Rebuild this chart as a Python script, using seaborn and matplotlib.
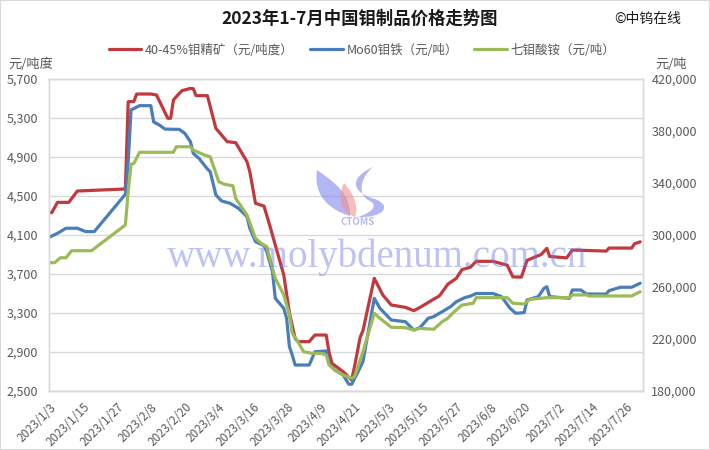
import matplotlib
matplotlib.use("Agg")
import matplotlib.pyplot as plt
import matplotlib.ticker as mticker
from matplotlib.patches import Rectangle, PathPatch
from matplotlib.path import Path
import pandas as pd
import seaborn as sns

# 40-45% molybdenum concentrate, yuan per ton-degree (left axis)
conc_dates = ["01-03", "01-04", "01-06", "01-10", "01-13", "01-30", "01-31", "02-02", "02-03", "02-08",
              "02-10", "02-14", "02-15", "02-16", "02-17", "02-19", "02-22", "02-23", "02-24", "02-28",
              "03-03", "03-07", "03-10", "03-14", "03-15", "03-17", "03-20", "03-22", "03-24", "03-27",
              "03-29", "03-31", "04-01", "04-05", "04-07", "04-11", "04-12", "04-13", "04-17", "04-20",
              "04-21", "04-23", "04-24", "04-28", "05-01", "05-04", "05-09", "05-12", "05-14", "05-16",
              "05-18", "05-21", "05-24", "05-27", "05-29", "06-01", "06-03", "06-09", "06-14", "06-16",
              "06-19", "06-21", "06-26", "06-28", "06-29", "07-05", "07-07", "07-19", "07-20", "07-28",
              "07-29", "07-31"]
conc_price = [4330, 4330, 4435, 4435, 4551, 4572, 5467, 5470, 5546, 5546,
              5536, 5297, 5297, 5485, 5519, 5580, 5604, 5600, 5529, 5529,
              5194, 5057, 5047, 4852, 4749, 4425, 4397, 4203, 3997, 3690,
              3300, 3040, 3006, 3006, 3074, 3074, 2900, 2784, 2698, 2613,
              2749, 3050, 3120, 3656, 3485, 3382, 3358, 3324, 3355, 3389,
              3425, 3475, 3595, 3656, 3745, 3770, 3830, 3830, 3790, 3670,
              3668, 3840, 3900, 3963, 3880, 3865, 3946, 3935, 3966, 3966,
              4010, 4030]

# Mo60 ferromolybdenum, yuan per ton (right axis)
femo_dates = ["01-03", "01-06", "01-09", "01-13", "01-16", "01-19", "01-30", "01-31", "02-01", "02-04",
              "02-08", "02-09", "02-11", "02-13", "02-16", "02-18", "02-20", "02-22", "02-23", "02-25",
              "02-28", "03-01", "03-03", "03-05", "03-08", "03-11", "03-14", "03-15", "03-17", "03-20",
              "03-21", "03-23", "03-24", "03-27", "03-28", "03-29", "03-30", "03-31", "04-05", "04-07",
              "04-11", "04-12", "04-14", "04-17", "04-19", "04-20", "04-22", "04-24", "04-28", "04-30",
              "05-04", "05-09", "05-12", "05-14", "05-15", "05-17", "05-19", "05-22", "05-25", "05-27",
              "05-30", "06-01", "06-03", "06-09", "06-12", "06-15", "06-17", "06-20", "06-21", "06-25",
              "06-27", "06-28", "06-29", "07-06", "07-07", "07-10", "07-12", "07-19", "07-20", "07-24",
              "07-28", "07-31"]
femo_price = [298200, 301300, 305200, 305200, 302600, 302600, 331300, 356400, 396200, 399500,
              399500, 387000, 384600, 381500, 381300, 381300, 378200, 371800, 362800, 359000,
              350800, 348700, 330800, 326200, 324400, 320500, 314100, 305200, 294900, 291800,
              287200, 271800, 251300, 243600, 236000, 214100, 207700, 200000, 200000, 210200,
              210800, 201300, 196200, 192300, 185200, 185200, 193600, 202600, 251300, 243600,
              234600, 233300, 226900, 228700, 230800, 235900, 237200, 241000, 244900, 248700,
              251800, 253000, 255000, 255000, 252600, 243600, 239800, 240300, 250000, 252600,
              259000, 260200, 252600, 251300, 257700, 257700, 254600, 254600, 257200, 259800,
              259800, 262900]

# ammonium heptamolybdate, yuan per ton (right axis)
ahm_dates = ["01-03", "01-05", "01-07", "01-09", "01-11", "01-18", "01-30", "01-31", "02-01", "02-02",
             "02-04", "02-16", "02-17", "02-22", "02-23", "02-27", "03-01", "03-04", "03-06", "03-09",
             "03-10", "03-12", "03-14", "03-17", "03-19", "03-21", "03-23", "03-24", "03-27", "03-29",
             "03-30", "04-01", "04-03", "04-06", "04-09", "04-11", "04-12", "04-14", "04-17", "04-20",
             "04-21", "04-24", "04-28", "04-30", "05-04", "05-09", "05-12", "05-14", "05-19", "05-22",
             "05-24", "05-26", "05-29", "06-02", "06-03", "06-14", "06-16", "06-20", "06-22", "06-28",
             "07-06", "07-07", "07-12", "07-13", "07-28", "07-31"]
ahm_price = [278700, 278700, 282500, 282500, 287900, 287900, 307700, 333300, 354400, 355000,
             363600, 363600, 367900, 367900, 365400, 361500, 360200, 341000, 339000, 337900,
             328200, 321800, 315400, 297500, 293600, 291000, 274400, 266700, 253900, 238500,
             224400, 217900, 210200, 209000, 209000, 207700, 200000, 196200, 192300, 189800,
             191000, 210200, 239800, 235900, 229000, 228700, 226900, 228200, 227500, 233300,
             236000, 240500, 246100, 247500, 251800, 251800, 247500, 246900, 250500, 251800,
             251800, 253900, 253900, 253100, 253100, 256400]

labels = ["40-45%钼精矿（元/吨度）", "Mo60钼铁（元/吨）", "七钼酸铵（元/吨）"]
colors = ["#C0393D", "#4A7EBB", "#9BBB59"]


def to_dates(days):
    return pd.to_datetime(["2023-" + d for d in days])


sns.set_style("white")
plt.rcParams["font.family"] = ["Noto Sans CJK SC", "DejaVu Sans"]
grey = "#595959"

fig = plt.figure(figsize=(7.1, 4.5), dpi=100)
ax = fig.add_axes([49 / 710, 1 - 391 / 450, 594 / 710, 312 / 450])
ax2 = ax.twinx()

sns.lineplot(x=to_dates(conc_dates), y=conc_price, ax=ax, color=colors[0], lw=2.3, label=labels[0])
sns.lineplot(x=to_dates(femo_dates), y=femo_price, ax=ax2, color=colors[1], lw=2.3, label=labels[1])
sns.lineplot(x=to_dates(ahm_dates), y=ahm_price, ax=ax2, color=colors[2], lw=2.3, label=labels[2])

h1, l1 = ax.get_legend_handles_labels()
h2, l2 = ax2.get_legend_handles_labels()
ax.get_legend().remove()
ax2.get_legend().remove()
fig.legend(h1 + h2, l1 + l2, loc="center", bbox_to_anchor=(362 / 710, 1 - 50 / 450), ncol=3,
           frameon=False, fontsize=9, handlelength=2.6, handletextpad=0.3, columnspacing=1.3,
           labelcolor=grey)

ax.set_xlim(pd.Timestamp("2023-01-03"), pd.Timestamp("2023-08-01"))
ticks = pd.date_range("2023-01-03", "2023-07-31", freq="12D")
ax.set_xticks(ticks)
ax.set_xticklabels([f"{t.year}/{t.month}/{t.day}" for t in ticks], rotation=45, ha="right",
                   rotation_mode="anchor", fontsize=8.5, color=grey)

ax.set_ylim(2500, 5700)
ax.set_yticks(range(2500, 5701, 400))
ax2.set_ylim(180000, 420000)
ax2.set_yticks(range(180000, 420001, 40000))
fmt = mticker.StrMethodFormatter("{x:,.0f}")
ax.yaxis.set_major_formatter(fmt)
ax2.yaxis.set_major_formatter(fmt)
ax.set_xlabel("")
ax.set_ylabel("")
ax2.set_ylabel("")

ax.grid(axis="y", color="#d9d9d9", lw=1)
ax.tick_params(axis="y", length=0, pad=8, labelsize=9, labelcolor=grey)
ax2.tick_params(axis="y", length=0, pad=6, labelsize=9, labelcolor=grey)
ax.tick_params(axis="x", length=4, color="#bfbfbf", direction="out", pad=3)
for a in (ax, ax2):
    for s in a.spines.values():
        s.set_color("#d9d9d9")
        s.set_linewidth(1)
ax.spines["bottom"].set_color("#bfbfbf")

# watermark: site name, logo and CTOMS mark
ax2.text(0.553, 0.43, "www.molybdenum.com.cn", transform=ax.transAxes, ha="center", va="center",
         fontsize=28, family="Liberation Serif", color="#6f78e8", alpha=0.45, zorder=10)
ax2.text(0.52, 0.542, "CTOMS", transform=ax.transAxes, ha="center", va="center",
         fontsize=7, fontweight="bold", fontstyle="italic", color="#6f78e8", alpha=0.5, zorder=10)


def px(pts):
    return [(x / 710, 1 - y / 450) for x, y in pts]


C4 = Path.CURVE4
logo = [
    (px([(317, 170), (313, 196), (330, 210), (350, 216), (351, 195), (336, 183), (317, 170)]),
     "#8088ec"),
    (px([(344, 183), (336, 200), (342, 213), (355, 217), (359, 205), (353, 193), (344, 183)]),
     "#f29090"),
    (px([(373, 167), (348, 178), (352, 193), (375, 199), (393, 206), (383, 218), (358, 217),
         (373, 212), (379, 205), (368, 200), (357, 193), (361, 177), (373, 167)]), "#8088ec"),
]
for pts, col in logo:
    codes = [Path.MOVETO] + [C4] * (len(pts) - 1)
    fig.patches.append(PathPatch(Path(pts, codes), transform=fig.transFigure, facecolor=col,
                                 edgecolor="none", alpha=0.6, zorder=10))

fig.text(360 / 710, 1 - 19 / 450, "2023年1-7月中国钼制品价格走势图", ha="center", va="center",
         fontsize=12.5, fontweight="bold", color="#1a1a1a")
fig.text(614 / 710, 1 - 19 / 450, "©中钨在线", ha="left", va="center", fontsize=10, color="#1a1a1a")
fig.text(8 / 710, 1 - 64 / 450, "元/吨度", ha="left", va="center", fontsize=9.5, color=grey)
fig.text(655 / 710, 1 - 64 / 450, "元/吨", ha="left", va="center", fontsize=9.5, color=grey)

fig.patches.append(Rectangle((0, 0), 1, 1, transform=fig.transFigure, fill=False,
                             edgecolor="#d9d9d9", lw=1.5))

fig.savefig("out.png", dpi=100)
